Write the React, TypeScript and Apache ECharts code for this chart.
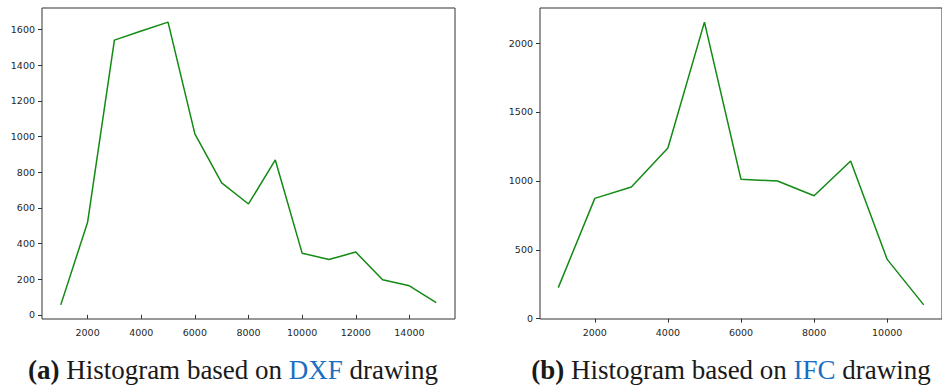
import React, { useEffect, useRef } from "react";
import * as echarts from "echarts";

// Left panel: DXF drawing histogram
const dxfBins = [1000, 2000, 3000, 4000, 5000, 6000, 7000, 8000, 9000, 10000, 11000, 12000, 13000, 14000, 15000];
const dxfCounts = [56, 519, 1541, 1592, 1642, 1015, 740, 622, 869, 346, 311, 352, 197, 163, 69];
const dxfXTicks = [2000, 4000, 6000, 8000, 10000, 12000, 14000];
const dxfYTicks = [0, 200, 400, 600, 800, 1000, 1200, 1400, 1600];

// Right panel: IFC drawing histogram
const ifcBins = [1000, 2000, 3000, 4000, 5000, 6000, 7000, 8000, 9000, 10000, 11000];
const ifcCounts = [225, 873, 955, 1238, 2152, 1011, 999, 892, 1144, 430, 100];
const ifcXTicks = [2000, 4000, 6000, 8000, 10000];
const ifcYTicks = [0, 500, 1000, 1500, 2000];

const captionA = { tag: "(a)", pre: "Histogram based on ", key: "DXF", post: " drawing" };
const captionB = { tag: "(b)", pre: "Histogram based on ", key: "IFC", post: " drawing" };

// 5% padding on each side of the data range
function padded(vals: number[]) {
  const lo = Math.min(...vals);
  const hi = Math.max(...vals);
  const m = (hi - lo) * 0.05;
  return { min: lo - m, max: hi + m };
}

const LINE = "#138a13";
const AXIS = "#333333";
const TEXT = "#262626";
const FONT = "DejaVu Sans";
const CAP_SIZE = 27;
const plain = (v: number) => String(Math.round(v));

function xAxis(gridIndex: number, bins: number[], ticks: number[]) {
  const r = padded(bins);
  return {
    type: "value",
    gridIndex,
    min: r.min,
    max: r.max,
    splitLine: { show: false },
    axisLine: { show: false },
    axisTick: { show: true, length: 4, lineStyle: { color: AXIS, width: 1 }, customValues: ticks },
    axisLabel: { customValues: ticks, formatter: plain, color: TEXT, fontFamily: FONT, fontSize: 9.5, margin: 8 },
  };
}

function yAxis(gridIndex: number, vals: number[], ticks: number[]) {
  const r = padded(vals);
  return {
    type: "value",
    gridIndex,
    min: r.min,
    max: r.max,
    splitLine: { show: false },
    axisLine: { show: false },
    axisTick: { show: true, length: 4, lineStyle: { color: AXIS, width: 1 }, customValues: ticks },
    axisLabel: { customValues: ticks, formatter: plain, color: TEXT, fontFamily: FONT, fontSize: 9.5, margin: 7 },
  };
}

function caption(c: typeof captionA, cx: number) {
  return {
    type: "text",
    x: cx,
    y: 370,
    style: {
      text: `{b|${c.tag}} ${c.pre}{k|${c.key}}${c.post}`,
      align: "center",
      verticalAlign: "middle",
      fontFamily: "Liberation Serif",
      fontSize: CAP_SIZE,
      fill: "#1a1a1a",
      rich: {
        b: { fontFamily: "Liberation Serif", fontSize: CAP_SIZE, fontWeight: "bold", fill: "#1a1a1a" },
        k: { fontFamily: "Liberation Serif", fontSize: CAP_SIZE, fill: "#1a6fc4" },
      },
    },
  };
}

export default function App() {
  const ref = useRef<HTMLDivElement>(null);

  useEffect(() => {
    document.body.style.margin = "0";
    if (!ref.current) return;
    const chart = echarts.init(ref.current, undefined, { renderer: "svg" });
    chart.setOption({
      animation: false,
      backgroundColor: "#ffffff",
      grid: [
        { left: 42, top: 8, width: 413, height: 311, show: true, borderColor: AXIS, borderWidth: 1, backgroundColor: "transparent" },
        { left: 540, top: 8, width: 413, height: 311, show: true, borderColor: AXIS, borderWidth: 1, backgroundColor: "transparent" },
      ],
      xAxis: [xAxis(0, dxfBins, dxfXTicks), xAxis(1, ifcBins, ifcXTicks)],
      yAxis: [yAxis(0, dxfCounts, dxfYTicks), yAxis(1, ifcCounts, ifcYTicks)],
      series: [
        {
          type: "line",
          xAxisIndex: 0,
          yAxisIndex: 0,
          data: dxfBins.map((b, i) => [b, dxfCounts[i]]),
          showSymbol: false,
          lineStyle: { color: LINE, width: 1.5 },
        },
        {
          type: "line",
          xAxisIndex: 1,
          yAxisIndex: 1,
          data: ifcBins.map((b, i) => [b, ifcCounts[i]]),
          showSymbol: false,
          lineStyle: { color: LINE, width: 1.5 },
        },
      ],
      graphic: [caption(captionA, 233), caption(captionB, 731)],
    });
    return () => chart.dispose();
  }, []);

  return <div ref={ref} style={{ width: 942, height: 385 }} />;
}
